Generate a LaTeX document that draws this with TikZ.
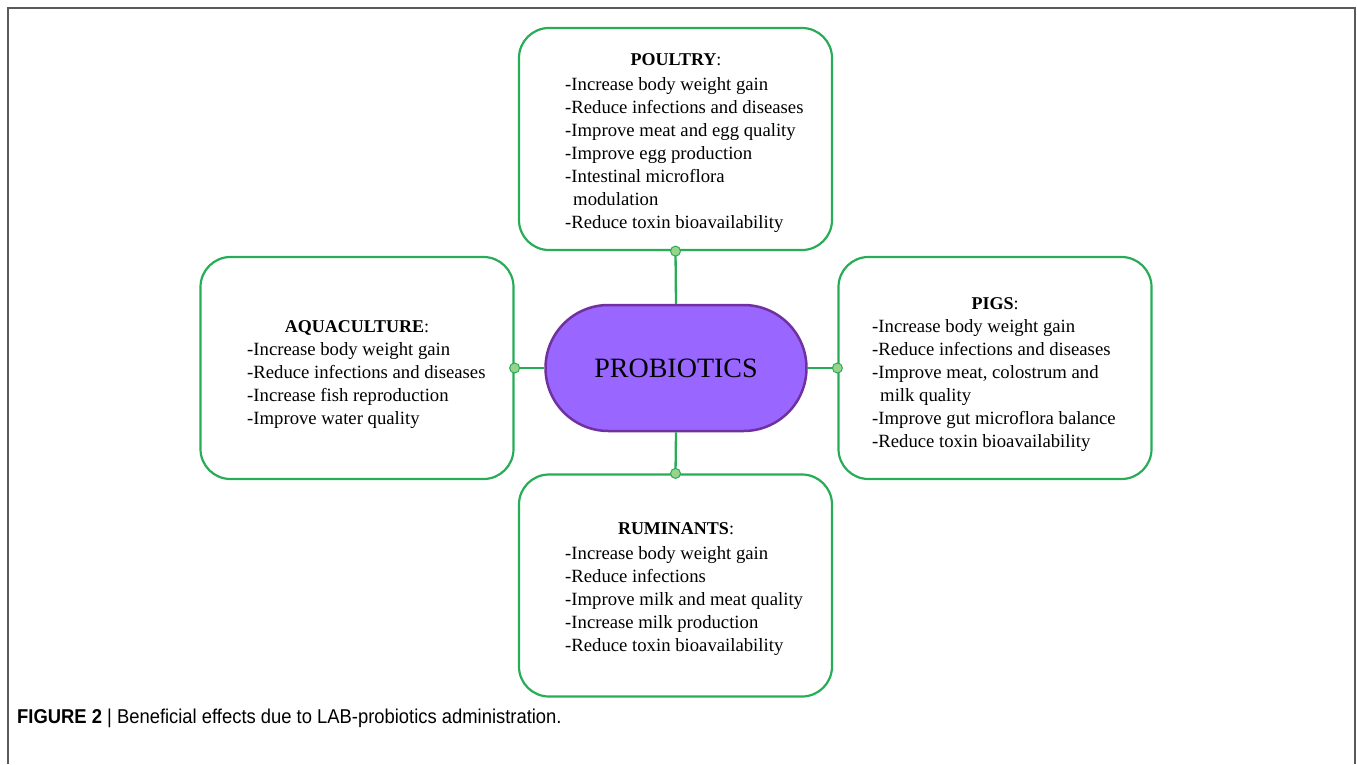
\documentclass[tikz,border=0pt]{standalone}
\usepackage{fontspec}
\setmainfont{Liberation Serif}
\newfontfamily\capfont[FakeStretch=0.92]{Liberation Sans}
\definecolor{boxgreen}{RGB}{40,172,88}
\definecolor{dotgreen}{RGB}{150,212,140}
\definecolor{probfill}{RGB}{153,102,255}
\definecolor{probdraw}{RGB}{112,48,160}
\definecolor{framegray}{RGB}{90,90,90}
\tikzset{
  card/.style={draw=boxgreen, line width=2.2pt, rounded corners=30pt, minimum width=313pt, minimum height=222pt, inner sep=0pt},
  hub/.style={draw=probdraw, fill=probfill, line width=2.5pt, rounded corners=63pt, minimum width=261pt, minimum height=126pt, font=\fontsize{28}{32}\selectfont},
  link/.style={draw=boxgreen, line width=2.3pt},
  knob/.style={circle, draw=boxgreen, fill=dotgreen, line width=1pt, minimum size=10pt, inner sep=0pt},
  head/.style={font=\fontsize{18}{23}\selectfont, inner sep=0pt, anchor=base},
  items/.style={font=\fontsize{18.7}{23}\selectfont, align=left, inner sep=0pt, anchor=north west},
}
\begin{document}
\begin{tikzpicture}[x=1pt,y=-1pt]
\useasboundingbox (0,0) rectangle (1357,764);
\draw[framegray, line width=2pt] (8,764) -- (8,8) -- (1355,8) -- (1355,764);

% boxes
\node[card] (poultry) at (675.5,139) {};
\node[card] (aqua) at (357,368) {};
\node[card] (pigs) at (995,368) {};
\node[card] (rumi) at (675.5,585.5) {};
\node[hub] (prob) at (676,368) {PROBIOTICS};

% connectors
\draw[link] (poultry.south) -- (prob.north);
\draw[link] (aqua.east) -- (prob.west);
\draw[link] (pigs.west) -- (prob.east);
\draw[link] (rumi.north) -- (prob.south);
\node[knob] (dT) at (poultry.south) {};
\node[knob] (dL) at (aqua.east) {};
\node[knob] (dR) at (pigs.west) {};
\node[knob] (dB) at (rumi.north) {};

% poultry text
\node[head] (pt) at (676,65) {\textbf{POULTRY}:};
\node[items] (pl) at (565,73.9) {\strut-Increase body weight gain\\-Reduce infections and diseases\\-Improve meat and egg quality\\-Improve egg production\\-Intestinal microflora\\\hspace*{8pt}modulation\\-Reduce toxin bioavailability};

% aquaculture text
\node[head] (at) at (357,332) {\textbf{AQUACULTURE}:};
\node[items] (al) at (247,338.9) {\strut-Increase body weight gain\\-Reduce infections and diseases\\-Increase fish reproduction\\-Improve water quality};

% pigs text
\node[head] (gt) at (995,309) {\textbf{PIGS}:};
\node[items] (gl) at (872,315.9) {\strut-Increase body weight gain\\-Reduce infections and diseases\\-Improve meat, colostrum and\\\hspace*{8pt}milk quality\\-Improve gut microflora balance\\-Reduce toxin bioavailability};

% ruminants text
\node[head] (rt) at (676,534) {\textbf{RUMINANTS}:};
\node[items] (rl) at (565,542.9) {\strut-Increase body weight gain\\-Reduce infections\\-Improve milk and meat quality\\-Increase milk production\\-Reduce toxin bioavailability};

% caption
\node[font=\capfont\fontsize{20}{23}\selectfont, anchor=base west, inner sep=0pt] (cap) at (17,723) {\textbf{FIGURE 2} | Beneficial effects due to LAB-probiotics administration.};
\end{tikzpicture}
\end{document}
